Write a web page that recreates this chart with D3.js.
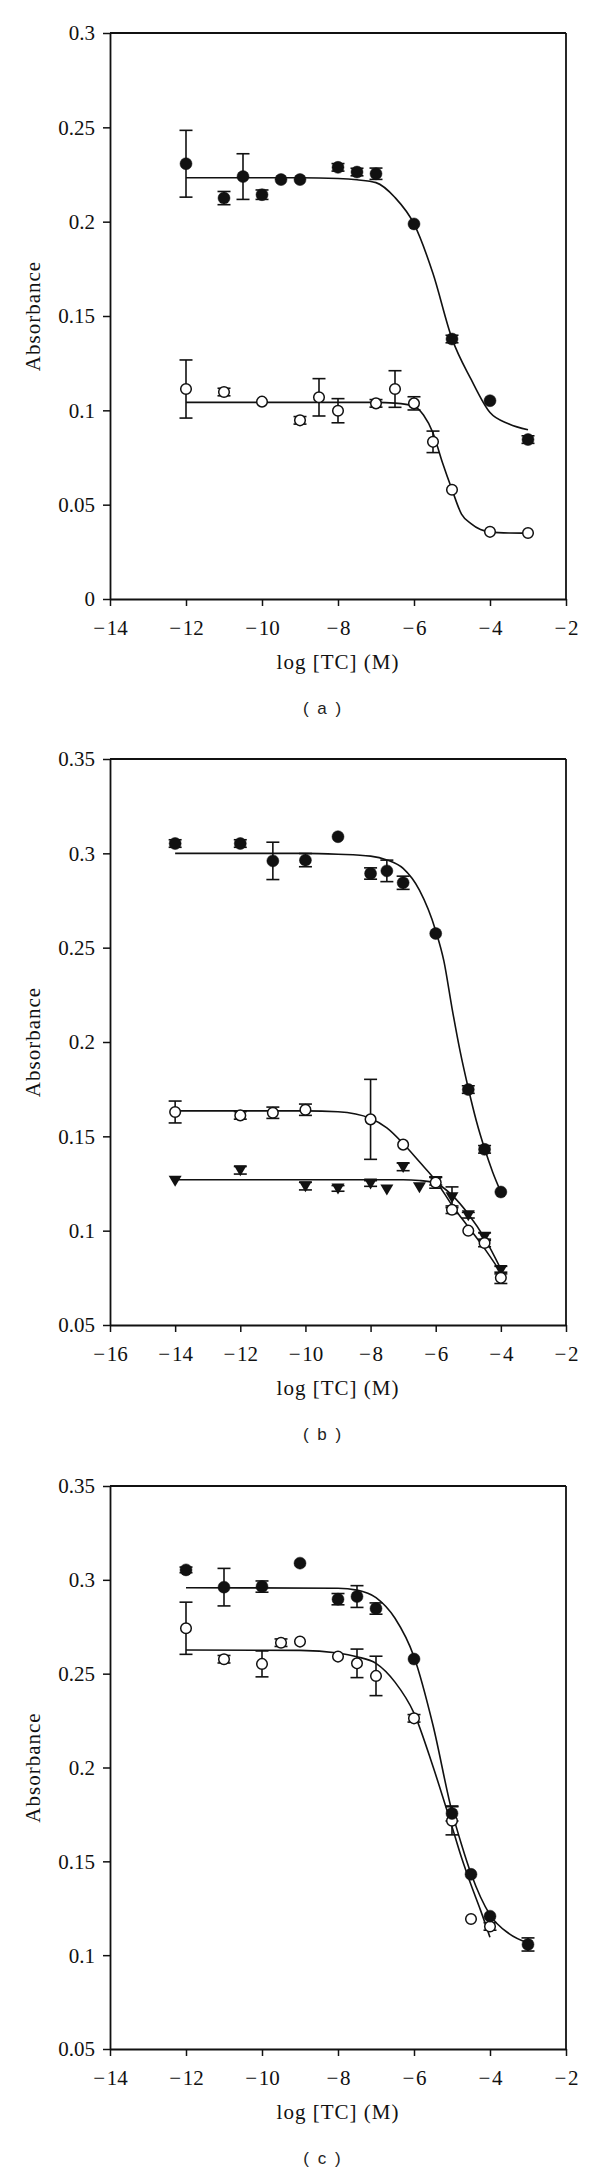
<!DOCTYPE html>
<html><head><meta charset="utf-8">
<script src="https://cdn.jsdelivr.net/npm/d3@7/dist/d3.min.js"></script>
<style>
html,body{margin:0;padding:0;background:#fff;}
svg{display:block;}
</style></head><body>
<svg id="chart" width="600" height="2175"></svg>
<script>
// ---------- Panel (a) ----------
const aXTicks = [-14,-12,-10,-8,-6,-4,-2];
const aXLabels = ["\u2212\u200A14","\u2212\u200A12","\u2212\u200A10","\u2212\u200A8","\u2212\u200A6","\u2212\u200A4","\u2212\u200A2"];
const aYTicks = [0,0.05,0.1,0.15,0.2,0.25,0.3];
const aYLabels = ["0","0.05","0.1","0.15","0.2","0.25","0.3"];

const aFilledX   = [-12,-11,-10.5,-10,-9.5,-9,-8,-7.5,-7,-6,-5,-4,-3];
const aFilledY   = [0.2307,0.2125,0.2239,0.2143,0.2223,0.2223,0.2288,0.2263,0.2254,0.1988,0.1378,0.1051,0.0845];
const aFilledErr = [0.0177,0.0035,0.0121,0.0025,0,0,0.002,0.002,0.003,0,0.002,0,0.002];

const aOpenX   = [-12,-11,-10,-9,-8.5,-8,-7,-6.5,-6,-5.5,-5,-4,-3];
const aOpenY   = [0.1113,0.1097,0.1046,0.0947,0.1069,0.0998,0.1037,0.1113,0.1037,0.0833,0.0579,0.0356,0.0350];
const aOpenErr = [0.0154,0.002,0,0.002,0.0099,0.0064,0.002,0.0097,0.0035,0.0057,0,0,0];

const aFitFilledX = [-12,-9,-8,-7.5,-7,-6.5,-6,-5.5,-5,-4.5,-4,-3.5,-3];
const aFitFilledY = [0.2233,0.2233,0.2229,0.2222,0.2207,0.2128,0.1988,0.1725,0.1380,0.1165,0.0988,0.0928,0.0897];
const aFitOpenX = [-12,-7,-6.5,-6,-5.75,-5.5,-5.25,-5,-4.75,-4.5,-4.25,-4,-3.5,-3];
const aFitOpenY = [0.1042,0.1042,0.1038,0.1022,0.0975,0.0880,0.0722,0.0580,0.0450,0.0400,0.0368,0.0356,0.0350,0.0349];

// ---------- Panel (b) ----------
const bXTicks = [-16,-14,-12,-10,-8,-6,-4,-2];
const bXLabels = ["\u2212\u200A16","\u2212\u200A14","\u2212\u200A12","\u2212\u200A10","\u2212\u200A8","\u2212\u200A6","\u2212\u200A4","\u2212\u200A2"];
const bYTicks = [0.05,0.1,0.15,0.2,0.25,0.3,0.35];
const bYLabels = ["0.05","0.1","0.15","0.2","0.25","0.3","0.35"];

const bFilledX   = [-14,-12,-11,-10,-9,-8,-7.5,-7,-6,-5,-4.5,-4];
const bFilledY   = [0.3052,0.3052,0.2960,0.2964,0.3088,0.2893,0.2907,0.2844,0.2575,0.1748,0.1431,0.1205];
const bFilledErr = [0.002,0.002,0.0099,0.0035,0,0.003,0.0057,0.0035,0,0.002,0.002,0];

const bOpenX   = [-14,-12,-11,-10,-8,-7,-6,-5.5,-5,-4.5,-4];
const bOpenY   = [0.1629,0.1611,0.1625,0.1641,0.1590,0.1456,0.1255,0.1111,0.1000,0.0935,0.0750];
const bOpenErr = [0.0058,0.002,0.003,0.003,0.0212,0,0.003,0.002,0,0.002,0.003];

const bTriX   = [-14,-12,-10,-9,-8,-7.5,-7,-6.5,-6,-5.5,-5,-4.5,-4];
const bTriY   = [0.1264,0.1320,0.1236,0.1224,0.1250,0.1218,0.1338,0.1230,0.1262,0.1177,0.1082,0.0968,0.0791];
const bTriErr = [0,0.002,0.002,0.0015,0.0015,0,0.002,0,0.002,0.0055,0.0015,0.002,0.002];

const bFitFilledX = [-14,-10,-9,-8,-7.5,-7,-6.5,-6,-5.75,-5.5,-5.25,-5,-4.75,-4.5,-4.25,-4];
const bFitFilledY = [0.300,0.300,0.2995,0.2985,0.2965,0.2920,0.2805,0.2590,0.2430,0.2180,0.1950,0.1755,0.1580,0.1435,0.1310,0.1205];
const bFitOpenX = [-14,-10,-9,-8,-7.5,-7,-6.5,-6,-5.5,-5,-4.5,-4];
const bFitOpenY = [0.1635,0.1635,0.1630,0.1595,0.1545,0.1462,0.1365,0.1265,0.1135,0.1020,0.0905,0.0778];
const bFitTriX = [-14,-7,-6.5,-6,-5.5,-5,-4.5,-4];
const bFitTriY = [0.1270,0.1270,0.1266,0.1252,0.1188,0.1088,0.0960,0.0796];

// ---------- Panel (c) ----------
const cXTicks = [-14,-12,-10,-8,-6,-4,-2];
const cXLabels = ["\u2212\u200A14","\u2212\u200A12","\u2212\u200A10","\u2212\u200A8","\u2212\u200A6","\u2212\u200A4","\u2212\u200A2"];
const cYTicks = [0.05,0.1,0.15,0.2,0.25,0.3,0.35];
const cYLabels = ["0.05","0.1","0.15","0.2","0.25","0.3","0.35"];

const cFilledX   = [-12,-11,-10,-9,-8,-7.5,-7,-6,-5,-4.5,-4,-3];
const cFilledY   = [0.3053,0.2961,0.2964,0.3089,0.2897,0.2911,0.2847,0.2578,0.1755,0.1431,0.1208,0.1057];
const cFilledErr = [0.0015,0.0100,0.0030,0,0.0030,0.0058,0.0030,0,0.0040,0,0,0.0035];

const cOpenX   = [-12,-11,-10,-9.5,-9,-8,-7.5,-7,-6,-5,-4.5,-4];
const cOpenY   = [0.2742,0.2577,0.2552,0.2665,0.2671,0.2591,0.2555,0.2488,0.2262,0.1716,0.1193,0.1153];
const cOpenErr = [0.0139,0.002,0.0069,0.002,0,0,0.0076,0.0105,0.002,0.0075,0,0.002];

const cFitFilledX = [-12,-8,-7.5,-7,-6.5,-6,-5.5,-5,-4.75,-4.5,-4.25,-4,-3.5,-3];
const cFitFilledY = [0.2958,0.2955,0.2945,0.2905,0.2795,0.2590,0.2225,0.1765,0.1590,0.1435,0.1310,0.1215,0.1115,0.1065];
const cFitOpenX = [-12,-9,-8,-7.5,-7,-6.5,-6,-5.5,-5,-4.75,-4.5,-4.25,-4];
const cFitOpenY = [0.2626,0.2624,0.2610,0.2590,0.2555,0.2455,0.2290,0.2005,0.1685,0.1520,0.1375,0.1240,0.1095];

const xTitle = "log [TC] (M)";
const yTitle = "Absorbance";

// ---------- drawing ----------
const svg = d3.select("#chart");
const L = 110, R = 566;
const SERIF = "'Liberation Serif','Times New Roman',serif";
const zip = (xs, ys, es) => xs.map((v,i)=>({x:v, y:ys[i], e: es ? es[i] : 0}));

const triType = { draw(ctx, size){ ctx.moveTo(-6.5,-5); ctx.lineTo(6.5,-5); ctx.lineTo(0,6); ctx.closePath(); } };

const panels = [
  { top:33, bottom:599, xDomain:[-14,-2], yDomain:[0,0.3], xTicks:aXTicks, xLabels:aXLabels, yTicks:aYTicks, yLabels:aYLabels, label:"( a )",
    fits:[zip(aFitFilledX,aFitFilledY), zip(aFitOpenX,aFitOpenY)],
    series:[{pts:zip(aFilledX,aFilledY,aFilledErr), kind:"filled"},{pts:zip(aOpenX,aOpenY,aOpenErr), kind:"open"}] },
  { top:759, bottom:1325, xDomain:[-16,-2], yDomain:[0.05,0.35], xTicks:bXTicks, xLabels:bXLabels, yTicks:bYTicks, yLabels:bYLabels, label:"( b )",
    fits:[zip(bFitFilledX,bFitFilledY), zip(bFitOpenX,bFitOpenY), zip(bFitTriX,bFitTriY)],
    series:[{pts:zip(bTriX,bTriY,bTriErr), kind:"tri"},{pts:zip(bOpenX,bOpenY,bOpenErr), kind:"open"},{pts:zip(bFilledX,bFilledY,bFilledErr), kind:"filled"}] },
  { top:1486, bottom:2049, xDomain:[-14,-2], yDomain:[0.05,0.35], xTicks:cXTicks, xLabels:cXLabels, yTicks:cYTicks, yLabels:cYLabels, label:"( c )",
    fits:[zip(cFitFilledX,cFitFilledY), zip(cFitOpenX,cFitOpenY)],
    series:[{pts:zip(cOpenX,cOpenY,cOpenErr), kind:"open"},{pts:zip(cFilledX,cFilledY,cFilledErr), kind:"filled"}] }
];

panels.forEach(p => {
  const g = svg.append("g");
  const x = d3.scaleLinear().domain(p.xDomain).range([L,R]);
  const y = d3.scaleLinear().domain(p.yDomain).range([p.bottom,p.top]);

  // frame top & right
  g.append("line").attr("x1",L).attr("x2",R).attr("y1",p.top).attr("y2",p.top).attr("stroke","#111").attr("stroke-width",1.8);
  g.append("line").attr("x1",R).attr("x2",R).attr("y1",p.top).attr("y2",p.bottom).attr("stroke","#111").attr("stroke-width",1.8);

  const xa = g.append("g").attr("transform",`translate(0,${p.bottom})`)
    .call(d3.axisBottom(x).tickValues(p.xTicks).tickFormat((d,i)=>p.xLabels[i]).tickSize(7).tickSizeOuter(0));
  const ya = g.append("g").attr("transform",`translate(${L},0)`)
    .call(d3.axisLeft(y).tickValues(p.yTicks).tickFormat((d,i)=>p.yLabels[i]).tickSize(7).tickSizeOuter(0).tickPadding(8));
  [xa,ya].forEach(a=>{
    a.select(".domain").attr("stroke","#111").attr("stroke-width",1.8);
    a.selectAll(".tick line").attr("stroke","#111").attr("stroke-width",1.5);
    a.selectAll("text").attr("fill","#111").style("font-family",SERIF).style("font-size","21px");
  });
  xa.selectAll("text").attr("y",36).attr("dy",null);
  ya.selectAll("text").attr("dy","0.33em");

  // titles
  g.append("text").attr("x",(L+R)/2).attr("y",p.bottom+70).attr("text-anchor","middle")
    .style("font-family",SERIF).style("font-size","21px").style("letter-spacing","1px").attr("fill","#111").text(xTitle);
  g.append("text").attr("transform",`translate(40,${(p.top+p.bottom)/2}) rotate(-90)`).attr("text-anchor","middle")
    .style("font-family",SERIF).style("font-size","21px").style("letter-spacing","1px").attr("fill","#111").text(yTitle);
  g.append("text").attr("x",323).attr("y",p.bottom+115).attr("text-anchor","middle")
    .style("font-family","'Liberation Sans',Arial,sans-serif").style("font-size","17px").style("letter-spacing","2px").attr("fill","#222").text(p.label);

  // fitted curves
  const line = d3.line().x(d=>x(d.x)).y(d=>y(d.y)).curve(d3.curveMonotoneX);
  p.fits.forEach(f=>{
    g.append("path").attr("d",line(f)).attr("fill","none").attr("stroke","#111").attr("stroke-width",1.6);
  });

  // error bars
  p.series.forEach(s=>{
    const eb = g.append("g").attr("stroke","#111").attr("stroke-width",1.6);
    s.pts.filter(d=>d.e>0).forEach(d=>{
      const cx = x(d.x), y1 = y(d.y+d.e), y2 = y(d.y-d.e);
      eb.append("line").attr("x1",cx).attr("x2",cx).attr("y1",y1).attr("y2",y2);
      eb.append("line").attr("x1",cx-6.5).attr("x2",cx+6.5).attr("y1",y1).attr("y2",y1);
      eb.append("line").attr("x1",cx-6.5).attr("x2",cx+6.5).attr("y1",y2).attr("y2",y2);
    });
  });

  // markers
  p.series.forEach(s=>{
    if (s.kind==="tri"){
      g.selectAll(null).data(s.pts).enter().append("path")
        .attr("d", d3.symbol().type(triType)())
        .attr("transform", d=>`translate(${x(d.x)},${y(d.y)})`)
        .attr("fill","#111");
    } else {
      g.selectAll(null).data(s.pts).enter().append("circle")
        .attr("cx",d=>x(d.x)).attr("cy",d=>y(d.y))
        .attr("r", s.kind==="filled" ? 6 : 5.3)
        .attr("fill", s.kind==="filled" ? "#111" : "#fff")
        .attr("stroke","#111").attr("stroke-width", s.kind==="filled" ? 0.5 : 1.5);
    }
  });
});
</script>
</body></html>
